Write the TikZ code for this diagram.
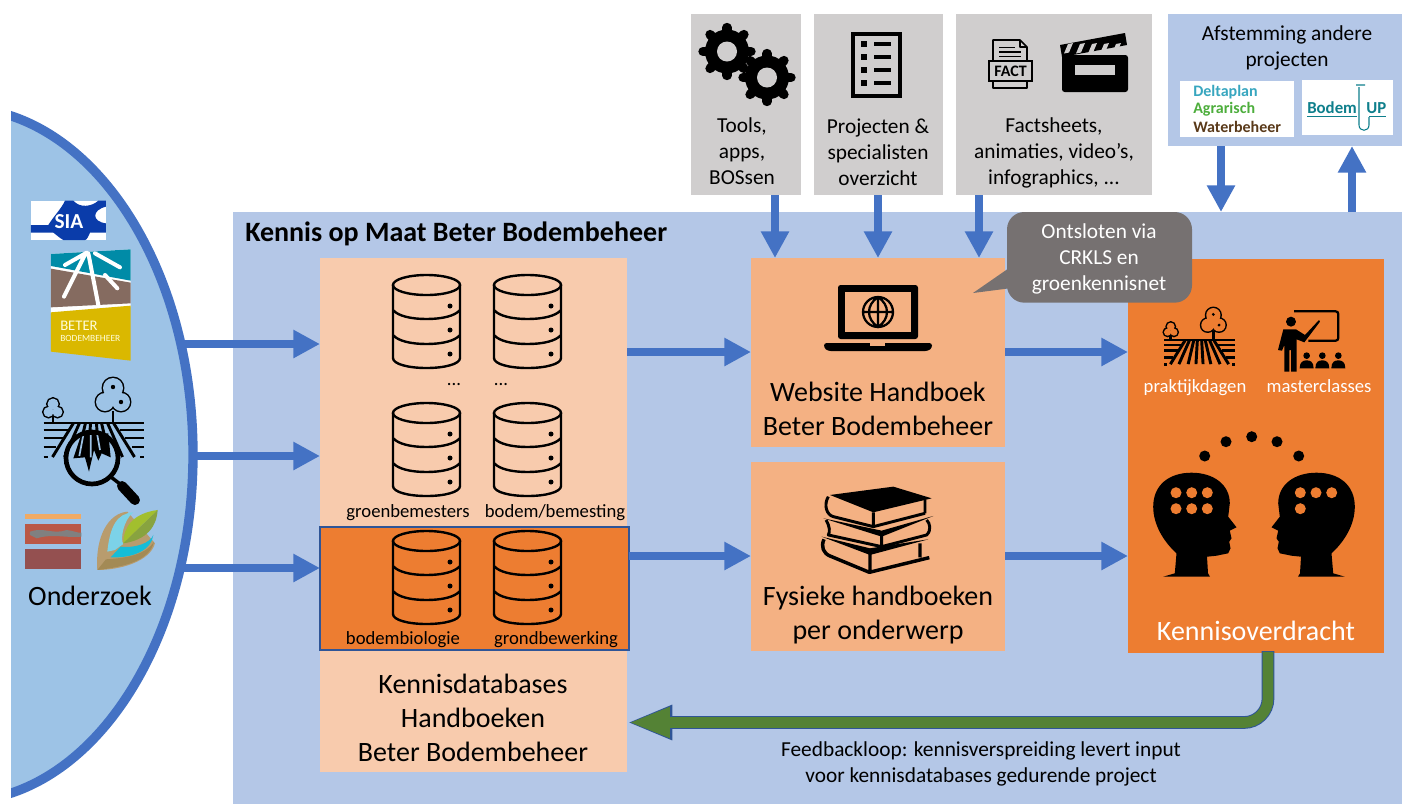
\documentclass[tikz,border=0pt]{standalone}
\usepackage{fontspec}
\setmainfont{Carlito}
\usepackage{tikz}
\usetikzlibrary{arrows.meta}

\definecolor{panelblue}{RGB}{180,199,231}
\definecolor{flowblue}{RGB}{68,114,196}
\definecolor{researchblue}{RGB}{157,195,230}
\definecolor{palepeach}{RGB}{248,203,173}
\definecolor{midpeach}{RGB}{244,177,131}
\definecolor{deeporange}{RGB}{237,125,49}
\definecolor{boxgray}{RGB}{208,206,206}
\definecolor{calloutgray}{RGB}{118,113,113}
\definecolor{loopgreen}{RGB}{84,130,53}
\definecolor{loopedge}{RGB}{47,85,151}
\definecolor{siablue}{RGB}{10,60,170}
\definecolor{logoteal}{RGB}{14,127,140}
\definecolor{deltacyan}{RGB}{55,166,191}
\definecolor{deltagreen}{RGB}{77,174,60}
\definecolor{deltabrown}{RGB}{90,58,26}

\tikzset{
  boxbase/.style={inner sep=0pt,outer sep=0pt,anchor=north west},
  flowline/.style={draw=flowblue,line width=6.5pt,-{Triangle[length=20pt,width=20pt]}},
  bigtext/.style={font=\fontsize{21}{25.5}\selectfont,align=center,inner sep=0pt},
  midtext/.style={font=\fontsize{16}{19.5}\selectfont,align=center,inner sep=0pt},
  smalltext/.style={font=\fontsize{14}{15}\selectfont,align=center,inner sep=0pt},
  logotext/.style={anchor=west,inner sep=0pt,font=\bfseries\fontsize{12}{12}\selectfont},
  % three stacked disks
  pics/dbstack/.style={code={
    \draw [line width=1.8pt,line join=round] (0,10) -- (0,83) .. controls (0,89) and (15,93) .. (33.5,93) .. controls (52,93) and (67,89) .. (67,83) -- (67,10) ;
    \draw [line width=1.8pt] (33.5,10) ellipse [x radius=33.5,y radius=10] ;
    \foreach \ybase in {35,60} {
      \draw [line width=1.8pt] (0,\ybase) .. controls (5,\ybase+6) and (18,\ybase+9) .. (33.5,\ybase+9) .. controls (49,\ybase+9) and (62,\ybase+6) .. (67,\ybase) ;
    }
    \foreach \ydot in {31,55,79} {
      \fill (57,\ydot) circle [radius=2.5] ;
    }
  }},
  % field with two trees, #1 is the colour behind it
  pics/fieldicon/.style={code={
    \draw [line width=2.2pt] (19.5,-12) -- (19.5,0) (-40.5,-6) -- (-40.5,0) ;
    \draw [line width=2.2pt] (19.5,-35) circle [radius=10] (11.5,-21) circle [radius=9] (27.5,-21) circle [radius=9] ;
    \draw [line width=2.2pt] (-40.5,-19) circle [radius=5.5] (-45,-11) circle [radius=5] (-36,-11) circle [radius=5] ;
    \fill [#1] (19.5,-35) circle [radius=10] (11.5,-21) circle [radius=9] (27.5,-21) circle [radius=9] ;
    \fill [#1] (-40.5,-19) circle [radius=5.5] (-45,-11) circle [radius=5] (-36,-11) circle [radius=5] ;
    \fill (19.5,-36) circle [radius=2.2] (27.5,-21) circle [radius=2.2] ;
    \draw [line width=2.2pt] (-50,0) -- (50,0) ;
    \foreach \xsgn in {-1,1} {
      \draw [line width=2.2pt] (\xsgn*50,7) -- (\xsgn*26,7) (\xsgn*50,15) -- (\xsgn*31,15) (\xsgn*50,24) -- (\xsgn*38,24) (\xsgn*50,34) -- (\xsgn*46,34) ;
      \draw [line width=2.2pt] (\xsgn*20,0) -- (\xsgn*41,34) (\xsgn*14,0) -- (\xsgn*29,34) (\xsgn*8,0) -- (\xsgn*16,34) (\xsgn*3,0) -- (\xsgn*5,34) ;
    }
  }},
  % head looking to the right, x=0 is halfway between the two heads
  pics/headicon/.style={code={
    \fill (-90.8,576.7) -- (-79.2,573.3) -- (-77.5,553.3) .. controls (-90,542) and (-100.8,525) .. (-100.8,506.7) .. controls (-100.8,485) and (-85,472.7) .. (-62.5,472.7) .. controls (-40,472.7) and (-24.2,485) .. (-24.2,503.3) -- (-25.8,516.7) -- (-17.5,527.3) -- (-24.2,530.7) -- (-22.5,538.3) -- (-24.8,541.7) -- (-23.5,548.3) -- (-25.8,553.3) -- (-37.5,555.7) -- (-47,556.7) -- (-46,573.3) -- (-44,576.7) -- cycle ;
  }}
}

\begin{document}
\begin{tikzpicture}[x=0.75pt,y=0.75pt,yscale=-1,xscale=1]
\useasboundingbox (0,0) rectangle (1402,804);

%Research half ellipse, cut off at the left
\begin{scope}
\clip (11,0) rectangle (400,804);
\fill [researchblue] (-40,454.5) ellipse [x radius=233,y radius=347] ;
\end{scope}

%Shape: Rectangle
\draw (233,212) node (panel) [boxbase,fill=panelblue,minimum width=876.75pt,minimum height=444pt] {};
\draw (320,258) node (dbbox) [boxbase,fill=palepeach,minimum width=230.25pt,minimum height=385.5pt] {};
\draw (320,527) node (dbfocus) [boxbase,fill=deeporange,draw=loopedge,line width=1pt,minimum width=231.75pt,minimum height=92.25pt] {};
\draw (751,258) node (sitebox) [boxbase,fill=midpeach,minimum width=190.5pt,minimum height=141.75pt] {};
\draw (751,462) node (printbox) [boxbase,fill=midpeach,minimum width=190.5pt,minimum height=141.75pt] {};
\draw (1128,259) node (transferbox) [boxbase,fill=deeporange,minimum width=192pt,minimum height=295.5pt] {};
\draw (691,14) node (toolsbox) [boxbase,fill=boxgray,minimum width=82.5pt,minimum height=135.75pt] {};
\draw (814,14) node (projectbox) [boxbase,fill=boxgray,minimum width=96.75pt,minimum height=135.75pt] {};
\draw (956,14) node (mediabox) [boxbase,fill=boxgray,minimum width=147pt,minimum height=135.75pt] {};
\draw (1168,14) node (alignbox) [boxbase,fill=panelblue,minimum width=175.5pt,minimum height=99pt] {};
\draw (1180,81) node (deltalogo) [boxbase,fill=white,minimum width=85.5pt,minimum height=42pt] {};
\draw (1302,80) node (bodemlogo) [boxbase,fill=white,minimum width=68.25pt,minimum height=41.25pt] {};

%Free ends of the arrows
\coordinate (leftA) at (183,344);
\coordinate (leftB) at (191,456);
\coordinate (leftC) at (183,568);
\coordinate (midA) at (0,352);
\coordinate (midB) at (0,556);
\coordinate (dropA) at (775,0);
\coordinate (dropB) at (878,0);
\coordinate (dropC) at (979,0);
\coordinate (dropD) at (1221,0);
\coordinate (riseA) at (1352,0);
\coordinate (loopA) at (1268,651);
\coordinate (loopB) at (1268,722.5);

%Straight Lines
\draw [flowline] (leftA) -- (leftA -| dbbox.west) ;
\draw [flowline] (leftB) -- (leftB -| dbbox.west) ;
\draw [flowline] (leftC) -- (leftC -| dbbox.west) ;
\draw [flowline] (midA -| dbbox.east) -- (midA -| sitebox.west) ;
\draw [flowline] (midB -| dbfocus.east) -- (midB -| printbox.west) ;
\draw [flowline] (midA -| sitebox.east) -- (midA -| transferbox.west) ;
\draw [flowline] (midB -| printbox.east) -- (midB -| transferbox.west) ;
\draw [flowline] (dropA |- toolsbox.south) -- (dropA |- sitebox.north) ;
\draw [flowline] (dropB |- projectbox.south) -- (dropB |- sitebox.north) ;
\draw [flowline] (dropC |- mediabox.south) -- (dropC |- sitebox.north) ;
\draw [flowline] (dropD |- alignbox.south) -- (dropD |- panel.north) ;
\draw [flowline] (riseA |- panel.north) -- (riseA |- alignbox.south) ;

%Research half ellipse edge
\begin{scope}
\clip (11,0) rectangle (400,804);
\draw [flowblue,line width=7pt] (-40,454.5) ellipse [x radius=233,y radius=347] ;
\end{scope}

%Feedback loop, edge first
\draw [loopedge,line width=9.5pt,rounded corners=18pt,-{Triangle[length=34pt,width=24pt]}] (loopA) -- (loopB) -- (loopB -| dbbox.east) ;
\draw [loopgreen,line width=8pt,rounded corners=18pt,shorten >=1.2pt,-{Triangle[length=31pt,width=21pt]}] (1268,651.8) -- (loopB) -- (loopB -| dbbox.east) ;

%Callout
\fill [calloutgray] (1012,266) -- (973,293) -- (1012,288) -- cycle ;
\draw (1007,212) node (viabubble) [boxbase,fill=calloutgray,rounded corners=13pt,minimum width=138.75pt,minimum height=68pt] {};

%Database icons
\foreach \dbx in {393,494} {
  \foreach \dby in {275,403,531} {
    \pic [transform shape] at (\dbx,\dby) {dbstack};
  }
}

%Gears
\foreach \gearx/\geary in {727/51.5,767/77.5} {
  \fill (\gearx,\geary) circle [radius=22] ;
  \foreach \toothang in {0,45,...,315} {
    \draw [line width=7pt,line cap=round] (\gearx,\geary) ++(\toothang:18) -- ++(\toothang:6) ;
  }
}
\foreach \gearx/\geary in {727/51.5,767/77.5} {
  \fill [boxgray] (\gearx,\geary) circle [radius=10] ;
}

%Checklist
\draw [line width=3pt] (853,33.5) rectangle (899.5,95.5) ;
\foreach \rowy in {44,57,70,83} {
  \fill (861,\rowy-3) rectangle (867,\rowy+3) ;
  \draw [line width=2.4pt] (874,\rowy) -- (891,\rowy) ;
}

%Fact sheet
\draw [line width=1.2pt,line join=round] (993,61) -- (993,40) -- (1020,40) -- (1027,47) -- (1027,61) (1020,40) -- (1020,47) -- (1027,47) (993,80) -- (993,88) -- (1027,88) -- (1027,80) ;
\draw [line width=1.2pt] (999,47.5) -- (1015,47.5) (999,52) -- (1021,52) (999,56.5) -- (1021,56.5) ;
\draw (1010.5,71) node (factlabel) [draw,line width=1.2pt,inner sep=0pt,minimum width=32pt,minimum height=15pt,font=\bfseries\fontsize{12}{12}\selectfont] {FACT};

%Clapper board
\fill [rounded corners=2pt] (1062,55) rectangle (1128,92) ;
\fill [boxgray] (1075,65) rectangle (1115,75) ;
\fill (1060,45) -- (1125,33) -- (1127,45) -- (1062,57) -- cycle ;
\foreach \barx in {1068,1080,1092,1104,1116} {
  \fill [boxgray] (\barx,44) -- (\barx+5,43) -- (\barx+1,52.5) -- (\barx-4,53.5) -- cycle ;
}

%Laptop
\fill [rounded corners=2pt] (838,285) rectangle (918,339) ;
\fill [midpeach] (845,292) rectangle (911,332) ;
\draw [line width=1.7pt] (878,312) circle [radius=15] (863,312) -- (893,312) (878,297) -- (878,327) (878,297) .. controls (866,305) and (866,319) .. (878,327) .. controls (890,319) and (890,305) .. (878,297) ;
\fill [rounded corners=2pt] (824,343) -- (932,343) -- (932,348) -- (928,351) -- (828,351) -- (824,348) -- cycle ;
\fill [midpeach] (870,343) rectangle (885,345.5) ;

%Books
\begin{scope}[shift={(750,260)},scale=0.3333]
\draw [line width=2.2pt,line join=round] (235,710) .. controls (220,735) and (230,765) .. (250,770) -- (370,800) -- (525,760) (525,718) -- (525,760) (370,757) -- (370,800) ;
\fill (240,705) -- (430,680) -- (545,715) -- (370,757) -- cycle ;
\fill (220,775) -- (395,812) -- (550,768) -- (395,830) -- cycle ;
\draw [line width=2.2pt,line join=round] (228,780) .. controls (240,800) and (240,815) .. (235,825) -- (395,860) -- (530,825) .. controls (545,810) and (540,790) .. (530,780) (395,822) -- (395,860) ;
\fill (215,830) -- (360,865) -- (535,838) -- (360,885) -- cycle ;
\draw [line width=2.6pt,line join=round] (222,838) .. controls (212,860) and (220,880) .. (240,888) -- (358,937) -- (538,893) (510,850) -- (510,892) (360,875) -- (360,935) ;
\end{scope}

%Teacher and class
\begin{scope}[shift={(1120,290)},scale=0.3333]
\draw [line width=1.7pt,rounded corners=2pt] (522,64) -- (655,64) -- (655,152) -- (565,152) ;
\fill (513,95) circle [radius=15] ;
\fill (490,118) -- (528,118) -- (555,135) -- (597,90) -- (600,95) -- (553,157) -- (530,148) -- (530,245) -- (513,245) -- (513,180) -- (508,180) -- (508,245) -- (493,245) -- (493,165) -- (486,182) -- (474,180) -- cycle ;
\foreach \kidx in {560,607,655} {
  \fill (\kidx,197) circle [radius=10] ;
  \fill (\kidx-21,235) .. controls (\kidx-21,215) and (\kidx-10,211) .. (\kidx,211) .. controls (\kidx+10,211) and (\kidx+21,215) .. (\kidx+21,235) -- cycle ;
}
\end{scope}

%Two heads with dots
\pic [transform shape] at (1254,0) {headicon};
\pic [transform shape,xscale=-1] at (1254,0) {headicon};
\foreach \dotx/\doty in {1176/492.7,1191.7/492.7,1207.3/492.7,1176/508.7,1191.7/508.7,1207.3/508.7,1300.3/492.7,1316/492.7,1331.7/492.7,1300.3/508.7} {
  \fill [deeporange] (\dotx,\doty) circle [radius=5.5] ;
}
\foreach \dotx/\doty in {1204.7/456,1226/441.7,1251.7/436.7,1277/441.7,1298.7/456} {
  \fill (\dotx,\doty) circle [radius=5.5] ;
}

%Field icons
\pic [transform shape,scale=0.71] at (1199.5,340) {fieldicon=deeporange};
\pic [transform shape] at (93.5,423) {fieldicon=researchblue};
%Magnifier
\fill [researchblue] (92,458) circle [radius=26] ;
\begin{scope}[shift={(20,370)},scale=0.3333]
\fill (185,190) -- (265,190) -- (272,262) -- (245,250) -- (235,272) -- (222,240) -- (207,305) -- (195,262) -- (160,265) -- cycle ;
\draw [researchblue,line width=1.3pt] (190,195) -- (178,258) (212,195) -- (212,262) (232,195) -- (240,240) ;
\end{scope}
\draw [line width=3.5pt] (92,458) circle [radius=26] ;
\draw [line width=2.6pt] (111,477) -- (120,484) ;
\draw [line width=7.5pt,line cap=round] (122,486) -- (135,500) ;

%SIA logo
\begin{scope}[shift={(20,190)},scale=0.3333]
\fill [white] (33,32) rectangle (258,150) ;
\fill [siablue] (135,32) -- (160,32) .. controls (180,55) and (215,50) .. (235,32) -- (258,32) -- (258,50) .. controls (215,60) and (215,95) .. (258,100) -- (258,128) -- (210,128) .. controls (205,140) and (200,150) .. (195,150) -- (130,150) .. controls (120,145) and (110,135) .. (100,128) -- (33,128) -- (33,105) -- (85,105) .. controls (100,80) and (125,55) .. (135,32) -- cycle ;
\end{scope}
\draw (69,222) node (sialabel) [inner sep=0pt,text=white,font=\bfseries\fontsize{16}{16}\selectfont] {SIA};

%Beter Bodembeheer logo
\begin{scope}[shift={(20,190)},scale=0.3333]
\fill [white] (93,192) -- (332,178) -- (332,350) -- (93,370) -- cycle ;
\fill [fill={rgb, 255:red, 0; green, 139; blue, 167 }] (93,192) -- (332,178) -- (332,272) -- (93,228) -- cycle ;
\fill [fill={rgb, 255:red, 133; green, 107; blue, 96 }] (93,236) -- (332,278) -- (332,340) -- (93,352) -- cycle ;
\fill [fill={rgb, 255:red, 218; green, 184; blue, 0 }] (93,367) -- (332,347) -- (332,512) -- (93,485) -- cycle ;
\draw [white,line width=3pt,line cap=round] (200,188) -- (135,225) (197,190) -- (132,320) (205,190) -- (235,345) (225,190) -- (300,232) (255,255) -- (292,295) ;
\end{scope}
\draw (60,326) node (betertext) [anchor=west,inner sep=0pt,text=yellow!15!white,font=\fontsize{11}{11}\selectfont] {BETER};
\draw (60,338) node (bodemtext) [anchor=west,inner sep=0pt,text=yellow!15!white,font=\fontsize{7.1}{7.1}\selectfont] {BODEMBEHEER};

%Soil and leaf logos
\begin{scope}[shift={(20,370)},scale=0.3333]
\fill [fill={rgb, 255:red, 240; green, 170; blue, 100 }] (15,431) rectangle (184,447) ;
\fill [fill={rgb, 255:red, 186; green, 88; blue, 70 }] (15,461) rectangle (184,522) ;
\fill [fill={rgb, 255:red, 148; green, 80; blue, 80 }] (15,537) rectangle (184,597) ;
\fill [gray] (30,485) .. controls (70,470) and (100,495) .. (140,480) .. controls (160,482) and (175,490) .. (184,488) -- (184,500) .. controls (140,505) and (100,490) .. (50,505) -- (30,495) -- cycle ;
\fill [fill={rgb, 255:red, 184; green, 156; blue, 110 }] (232,600) .. controls (225,500) and (265,430) .. (322,425) -- (405,520) .. controls (390,575) and (300,600) .. (232,600) -- cycle ;
\fill [fill={rgb, 255:red, 163; green, 138; blue, 85 }] (232,600) .. controls (320,590) and (390,570) .. (402,515) .. controls (375,560) and (300,565) .. (258,568) -- cycle ;
\fill [fill={rgb, 255:red, 124; green, 210; blue, 232 }] (262,545) .. controls (270,470) and (290,430) .. (340,427) .. controls (310,450) and (300,510) .. (310,522) -- (285,540) -- cycle ;
\fill [fill={rgb, 255:red, 21; green, 189; blue, 216 }] (272,562) -- (302,530) .. controls (345,535) and (390,520) .. (400,495) .. controls (395,540) and (340,565) .. (272,562) -- cycle ;
\fill [fill={rgb, 255:red, 162; green, 191; blue, 46 }] (310,520) .. controls (310,470) and (340,430) .. (413,420) -- cycle ;
\fill [fill={rgb, 255:red, 136; green, 163; blue, 63 }] (310,520) -- (413,420) .. controls (410,470) and (380,510) .. (310,520) -- cycle ;
\end{scope}

%Deltaplan and Bodem UP logos
\draw [logoteal,line width=1pt] (1307,116.5) -- (1357,116.5) (1369,116.5) -- (1386,116.5) ;
\draw [logoteal,line width=0.8pt] (1359,87) -- (1359,125) .. controls (1359,132) and (1369,132) .. (1369,125) -- (1369,117) (1356,85) -- (1365,85) ;

% Text Node
\draw (245,234) node (paneltitle) [anchor=west,inner sep=0pt,font=\bfseries\fontsize{21}{21}\selectfont] {Kennis op Maat Beter Bodembeheer};
% Text Node
\draw (90,596) node (researchtext) [bigtext] {Onderzoek};
% Text Node
\draw (473,718) node (dbtext) [bigtext] {Kennisdatabases\\Handboeken\\Beter Bodembeheer};
% Text Node
\draw (878,409) node (sitetext) [bigtext] {Website Handboek\\Beter Bodembeheer};
% Text Node
\draw (878,615) node (printtext) [bigtext] {Fysieke handboeken\\per onderwerp};
% Text Node
\draw (1256,631) node (transfertext) [bigtext,text=white] {Kennisoverdracht};
% Text Node
\draw (742,151) node (toolstext) [midtext] {Tools,\\apps,\\BOSsen};
% Text Node
\draw (878,152) node (projecttext) [midtext] {Projecten \&\\specialisten\\overzicht};
% Text Node
\draw (1054,153) node (mediatext) [midtext] {Factsheets,\\animaties, video’s,\\infographics, ...};
% Text Node
\draw (1287,48) node (aligntext) [midtext] {Afstemming andere\\projecten};
% Text Node
\draw (1099,259) node (viatext) [midtext,text=white] {Ontsloten via\\CRKLS en\\groenkennisnet};
% Text Node
\draw (981,764) node (looptext) [midtext] {Feedbackloop: kennisverspreiding levert input\\voor kennisdatabases gedurende project};
% Text Node
\draw (408,513) node (greentext) [smalltext] {groenbemesters};
\draw (555,513) node (bemesttext) [smalltext] {bodem/bemesting};
\draw (403,640) node (biotext) [smalltext] {bodembiologie};
\draw (556,640) node (bewerktext) [smalltext] {grondbewerking};
\draw (454,385) node (moreA) [smalltext] {...};
\draw (501,385) node (moreB) [smalltext] {...};
\draw (1195,387.5) node (fieldtext) [smalltext,text=white] {praktijkdagen};
\draw (1319,386) node (classtext) [smalltext,text=white] {masterclasses};
% Text Node
\draw (1193,92) node (deltaA) [logotext,text=deltacyan] {Deltaplan};
\draw (1193,109.5) node (deltaB) [logotext,text=deltagreen] {Agrarisch};
\draw (1193,127) node (deltaC) [logotext,text=deltabrown] {Waterbeheer};
\draw (1307,108) node (bodemA) [logotext,text=logoteal,font=\bfseries\fontsize{12.6}{12}\selectfont] {Bodem};
\draw (1366,108) node (bodemB) [logotext,text=logoteal,font=\bfseries\fontsize{12.6}{12}\selectfont] {UP};

\end{tikzpicture}
\end{document}
